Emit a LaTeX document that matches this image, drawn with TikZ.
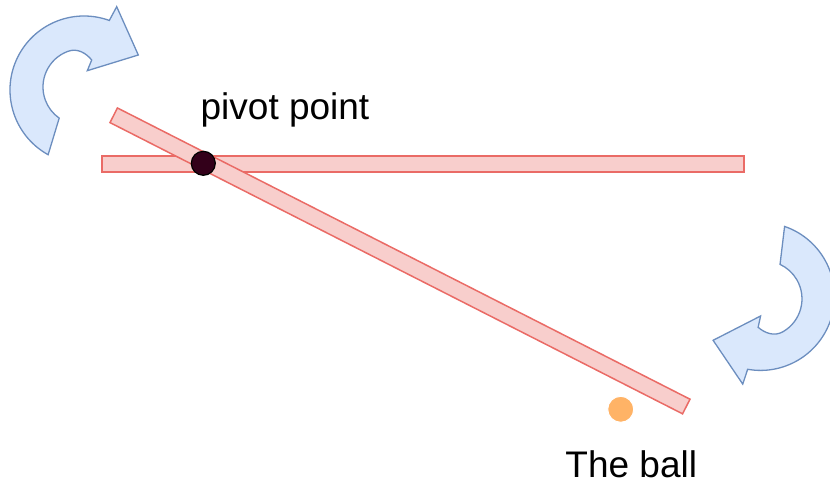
\documentclass[tikz,border=0pt]{standalone}
\usepackage{fontspec}
\setmainfont{Liberation Sans}
\usepackage{tikz}
\definecolor{rodfill}{HTML}{F8CECC}
\definecolor{roddraw}{HTML}{EA6B66}
\definecolor{spinfill}{HTML}{DAE8FC}
\definecolor{spindraw}{HTML}{6C8EBF}
\definecolor{pivotfill}{HTML}{33001A}
\definecolor{ballfill}{HTML}{FFB366}
\tikzset{
  rod/.style={fill=rodfill,draw=roddraw,line width=1.5pt},
  spinbody/.style={fill=spinfill,draw=spindraw,line width=1.3pt,line join=miter},
  pivotdot/.style={circle,fill=pivotfill,draw=black,line width=1.2pt,inner sep=0pt,minimum size=24pt},
  balldot/.style={circle,fill=ballfill,draw=white,line width=1pt,inner sep=0pt,minimum size=26pt},
  lbl/.style={font=\fontsize{37}{44}\selectfont,text=black,inner sep=0pt},
  pics/spinarrow/.style={code={
    \draw[spinbody] (119:74) arc[start angle=119,end angle=290,radius=74]
      -- (32.7,-83.3) -- (54.3,-35) -- (3.3,-19.3) -- (7.7,-30)
      .. controls (2,-37) and (-6.6,-42.1) .. (-16,-38.7)
      arc[start angle=250,end angle=125,radius=38] -- cycle;
  }},
}

\begin{document}
\begin{tikzpicture}[x=1pt,y=-1pt]
  \useasboundingbox (0,0) rectangle (830,484);
  \clip (0,0) rectangle (830,484);
  % the two rods
  \draw[rod] (102,156) rectangle (744,172);
  \begin{scope}[shift={(400,260.9)},rotate=-26.96]
    \draw[rod] (-321.2,-8.2) rectangle (321.2,8.2);
  \end{scope}
  % turning arrows
  \pic at (84,90) {spinarrow};
  \pic[rotate=-170] at (760.5,296.4) {spinarrow};
  % pivot and ball
  \node[pivotdot] (pivot) at (203.3,163.3) {};
  \node[balldot] (ball) at (620.7,409.3) {};
  \node[lbl,anchor=base] (pivotlbl) at (285,119.3) {pivot point};
  \node[lbl,anchor=base] (balllbl) at (631.3,477.3) {The ball};
\end{tikzpicture}
\end{document}
